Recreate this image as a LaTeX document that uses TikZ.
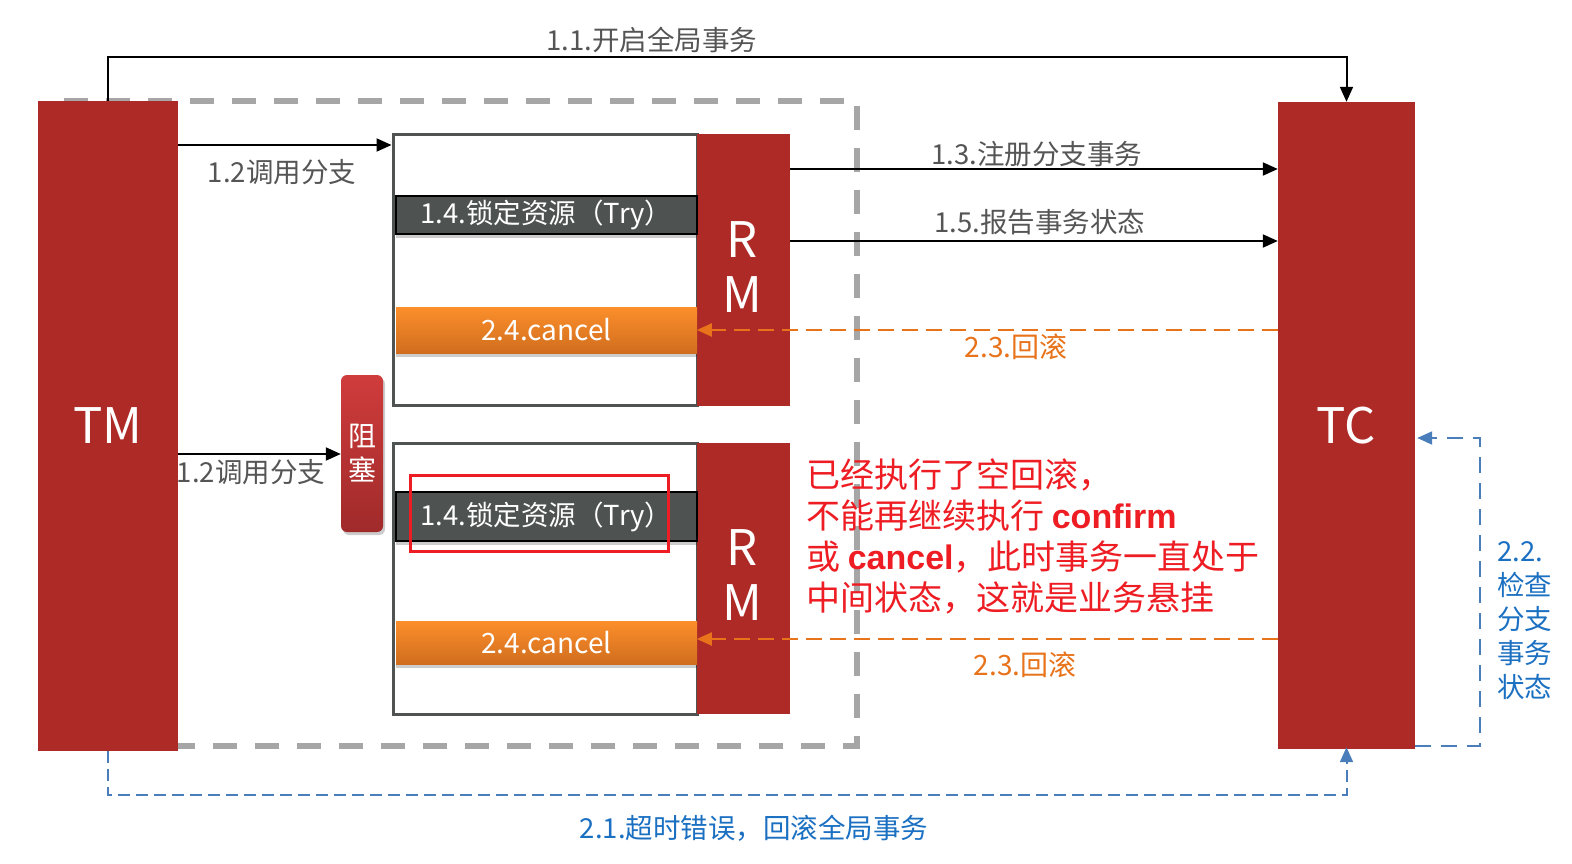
\documentclass[tikz,border=0pt]{standalone}
\usepackage{fontspec}
\setmainfont{Noto Sans CJK SC}
\newfontfamily\latinb{Liberation Sans}
\usetikzlibrary{arrows.meta,shadows}
\definecolor{blk}{HTML}{AD2A27}
\definecolor{bordergray}{HTML}{4F5453}
\definecolor{tryfill}{HTML}{4E5352}
\definecolor{orgtop}{HTML}{FC8F2B}
\definecolor{orgbot}{HTML}{D06D1E}
\definecolor{dashgray}{HTML}{A6A6A6}
\definecolor{lblgray}{HTML}{555555}
\definecolor{orgline}{HTML}{E8731A}
\definecolor{blueline}{HTML}{4A7EBB}
\definecolor{bluetext}{HTML}{1B70C2}
\definecolor{redtext}{HTML}{EE1D24}
\definecolor{zutop}{HTML}{D03C3C}
\definecolor{zubot}{HTML}{A02A2A}
\tikzset{
  redblk/.style={fill=blk, draw=none, text=white, inner sep=0pt},
  bigfont/.style={font=\fontsize{49}{52}\selectfont},
  framebox/.style={draw=bordergray, line width=3pt, fill=white, inner sep=0pt},
  trybar/.style={draw=black, line width=2pt, fill=tryfill, text=white, inner sep=0pt,
    minimum width=301pt, font=\fontsize{27.5}{30}\selectfont,
    drop shadow={shadow xshift=0pt, shadow yshift=-4pt, opacity=0.2, fill=black}},
  cancelbar/.style={draw=none, top color=orgtop, bottom color=orgbot, text=white, inner sep=0pt,
    minimum width=301pt, font=\fontsize{28}{30}\selectfont,
    drop shadow={shadow xshift=0pt, shadow yshift=-4pt, opacity=0.2, fill=black}},
  lbl/.style={text=lblgray, font=\fontsize{27.5}{30}\selectfont, inner sep=0pt},
  orglbl/.style={text=orgline, font=\fontsize{28}{30}\selectfont, inner sep=0pt},
  bluelbl/.style={text=bluetext, font=\fontsize{27.5}{34}\selectfont, inner sep=0pt},
  redlbl/.style={text=redtext, font=\fontsize{34}{36}\selectfont, inner sep=0pt, anchor=west},
  arr/.style={-{Triangle[length=15pt,width=13pt]}, line width=2pt, black},
  orgarr/.style={-{Triangle[length=15pt,width=13pt]}, line width=2pt, orgline, dash pattern=on 16pt off 8pt},
  bluearr/.style={-{Triangle[length=15pt,width=13pt]}, line width=2pt, blueline},
}
\begin{document}
\begin{tikzpicture}[x=1pt,y=-1pt]
\useasboundingbox (0,0) rectangle (1572,864);
\fill[white] (0,0) rectangle (1572,864);
% gray dashed frame
\draw[dashgray, line width=6pt, dash pattern=on 24pt off 18pt] (60,101) rectangle (857,746);
% helper coordinates
\coordinate (c145) at (0,145);
\coordinate (c169) at (0,169);
\coordinate (c241) at (0,241);
\coordinate (c330) at (0,330);
\coordinate (c639) at (0,639);
\coordinate (c454) at (0,454);
\coordinate (c438) at (0,438);
% main blocks
\node[redblk, bigfont, minimum width=140pt, minimum height=650pt] (TM) at (108,426) {TM};
\node[redblk, bigfont, minimum width=137pt, minimum height=647pt] (TC) at (1346.5,425.5) {TC};
% upper branch
\node[framebox, minimum width=304pt, minimum height=270pt] (box1) at (545,270) {};
\node[redblk, minimum width=93pt, minimum height=272pt] (RM1) at (743.5,270) {};
\node[text=white, bigfont, inner sep=0pt] (R1) at (742,240) {R};
\node[text=white, bigfont, inner sep=0pt] (M1) at (742,295) {M};
\node[trybar, minimum height=38pt] (try1) at (546.5,215) {1.4.锁定资源（Try）};
\node[cancelbar, minimum height=46pt] (can1) at (546.5,330) {2.4.cancel};
% lower branch
\node[framebox, minimum width=304pt, minimum height=271pt] (box2) at (545,578.5) {};
\node[redblk, minimum width=93pt, minimum height=271pt] (RM2) at (743.5,578.5) {};
\node[text=white, bigfont, inner sep=0pt] (R2) at (742,548) {R};
\node[text=white, bigfont, inner sep=0pt] (M2) at (742,603) {M};
\node[trybar, minimum height=49pt] (try2) at (546.5,516.5) {1.4.锁定资源（Try）};
\node[cancelbar, minimum height=43pt] (can2) at (546.5,642.5) {2.4.cancel};
\node[draw=redtext, line width=3pt, minimum width=258pt, minimum height=76pt, inner sep=0pt] (hl) at (539,513) {};
% blocking node
\node[rounded corners=6pt, top color=zutop, bottom color=zubot, text=white, inner sep=0pt,
  minimum width=42pt, minimum height=157pt, align=center, font=\fontsize{28}{34}\selectfont,
  drop shadow={shadow xshift=2pt, shadow yshift=-3pt, opacity=0.2, fill=black}] (zu) at (362,453.5) {阻\\塞};
% arrows
\draw[arr] (TM.north) -- ++(0,-44) -| (TC.north);
\node[lbl] (l11) at (652,40) {1.1.开启全局事务};
\draw[arr] (TM.east |- c145) -- (box1.west |- c145);
\node[lbl] (l12a) at (282,172) {1.2调用分支};
\draw[arr] (TM.east |- c454) -- (zu.west |- c454);
\node[lbl] (l12b) at (251,472) {1.2调用分支};
\draw[arr] (RM1.east |- c169) -- (TC.west |- c169);
\node[lbl] (l13) at (1037,154) {1.3.注册分支事务};
\draw[arr] (RM1.east |- c241) -- (TC.west |- c241);
\node[lbl] (l15) at (1040,222) {1.5.报告事务状态};
\draw[orgarr] (TC.west |- c330) -- (RM1.west |- c330);
\node[orglbl] (l23a) at (1016,347) {2.3.回滚};
\draw[orgarr] (TC.west |- c639) -- (RM2.west |- c639);
\node[orglbl] (l23b) at (1025,665) {2.3.回滚};
\draw[bluearr, dash pattern=on 16pt off 10pt] (TC.south east) ++(0,-3) -- ++(65,0) |- ([xshift=2pt]TC.east |- c438);
\node[bluelbl, anchor=north west, align=left] (l22) at (1497,541) {2.2.\\检查\\分支\\事务\\状态};
\draw[bluearr, dash pattern=on 12pt off 6pt] (TM.south) -- ++(0,44) -| ([yshift=2pt]TC.south);
\node[bluelbl] (l21) at (754,828) {2.1.超时错误，回滚全局事务};
% red note
\node[redlbl] (n1) at (806,475) {已经执行了空回滚，};
\node[redlbl] (n2) at (806,516) {不能再继续执行 {\latinb\bfseries confirm}};
\node[redlbl] (n3) at (806,557) {或 {\latinb\bfseries cancel}，此时事务一直处于};
\node[redlbl] (n4) at (806,598) {中间状态，这就是业务悬挂};
\end{tikzpicture}
\end{document}
